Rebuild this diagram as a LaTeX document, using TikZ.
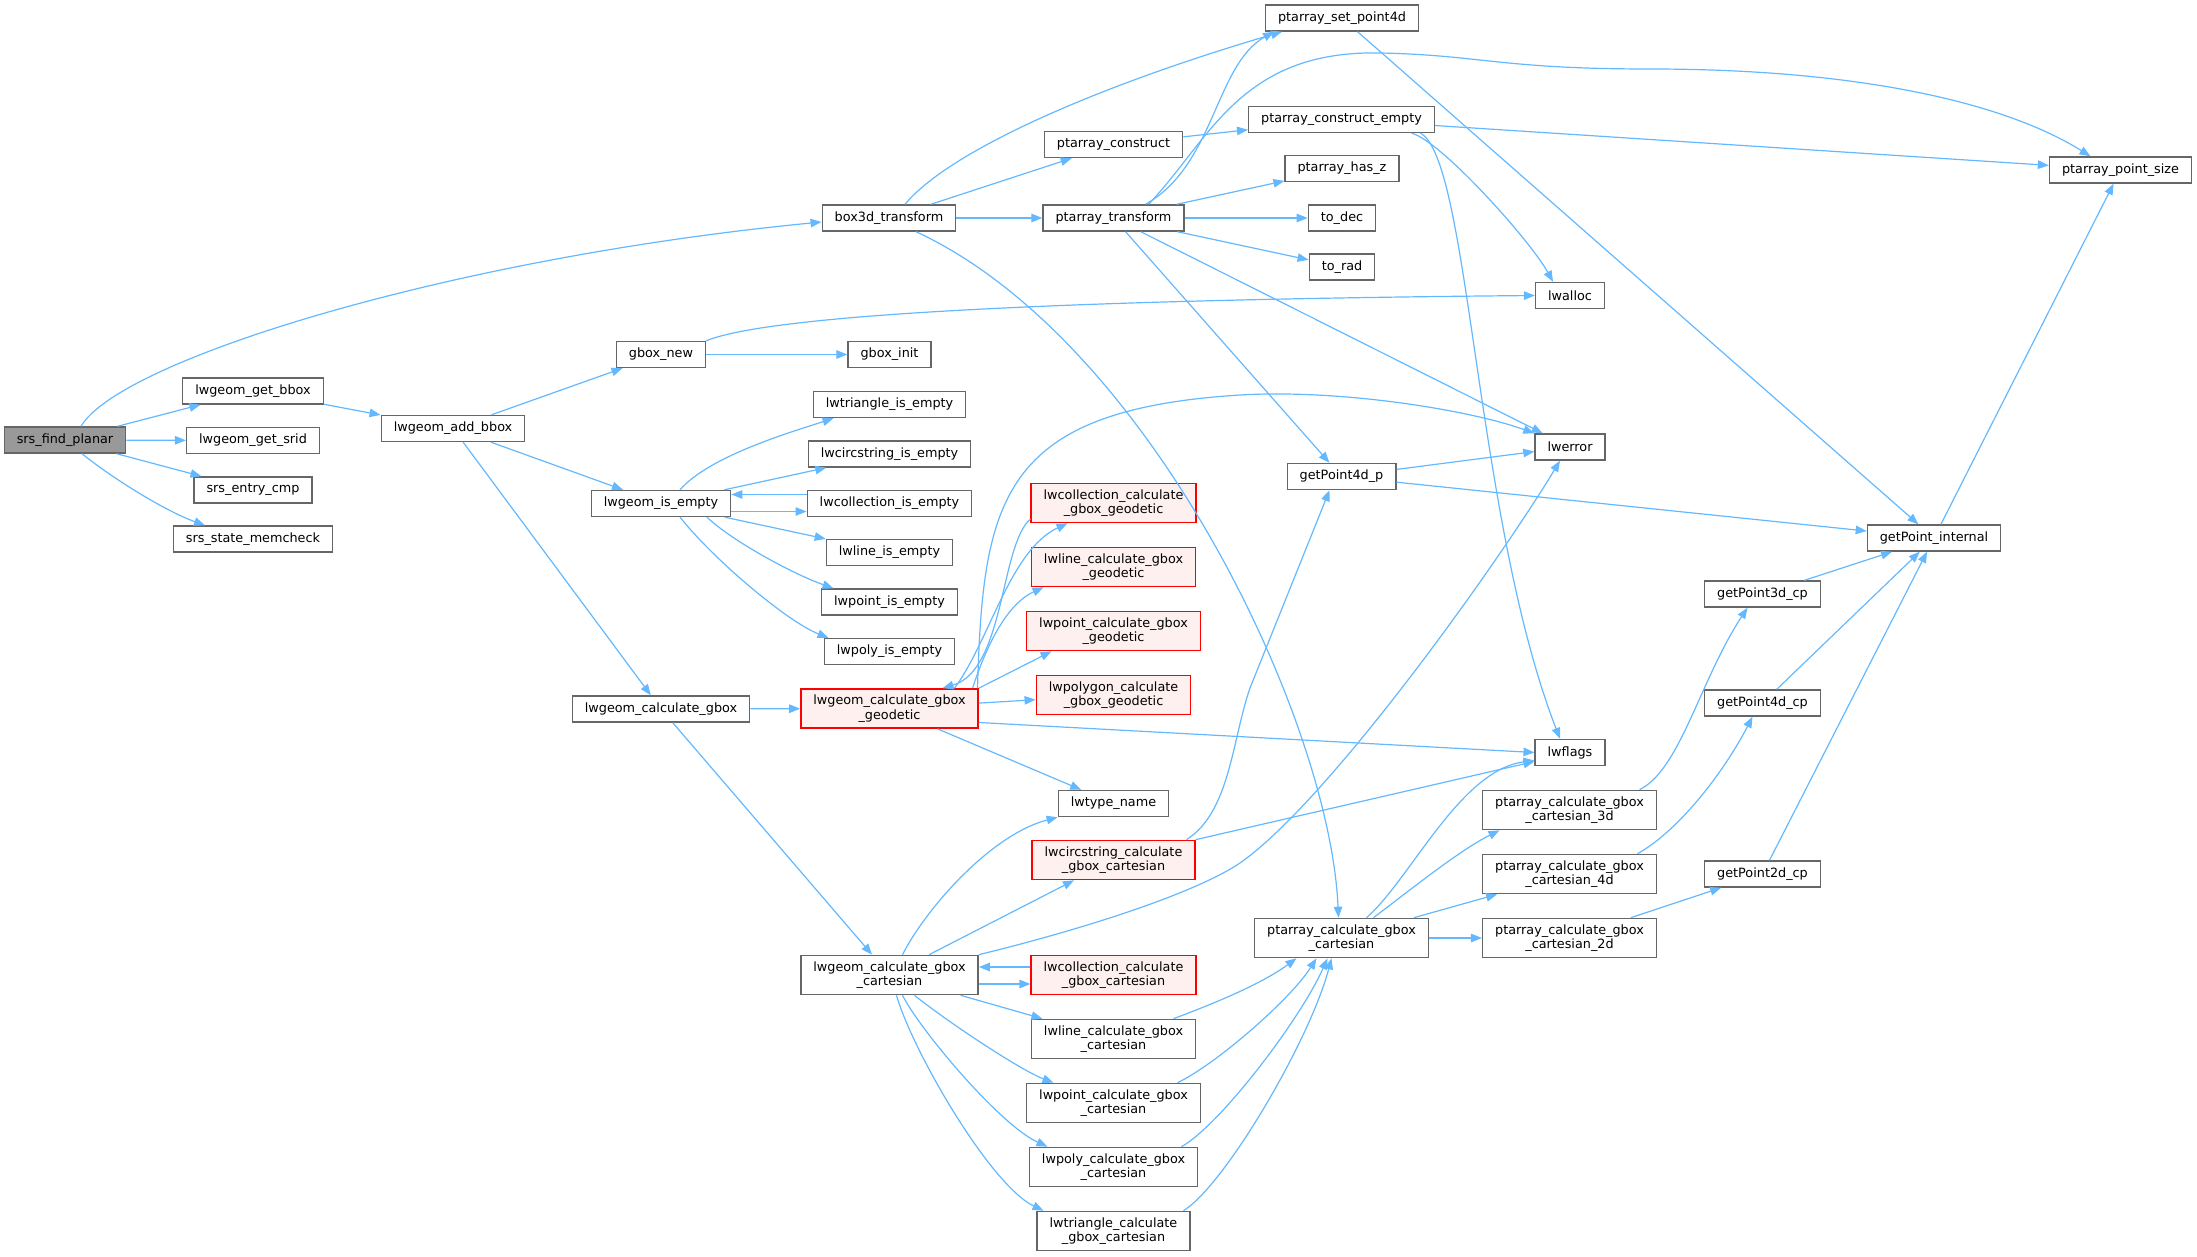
\documentclass[tikz,border=0pt]{standalone}
\usepackage{fontspec}
\setmainfont{DejaVu Sans}
\usetikzlibrary{arrows.meta}
\definecolor{edgeblue}{HTML}{63B8FF}
\definecolor{nodegray}{HTML}{666666}
\definecolor{rootgray}{HTML}{999999}
\definecolor{redfill}{HTML}{FFF0F0}

\begin{document}
\begin{tikzpicture}[x=1pt, y=-1pt,
    box/.style={rectangle, draw=nodegray, fill=white, line width=1.4pt, minimum height=26pt, inner xsep=12.5pt, inner ysep=6pt, align=center, font=\fontsize{12.8}{14.5}\selectfont},
    rootbox/.style={box, fill=rootgray},
    redbox/.style={box, draw=red, fill=redfill},
    arr/.style={-{Triangle[length=11pt,width=8.5pt]}, line width=1.2pt, color=edgeblue}
]
\useasboundingbox (0,0) rectangle (2197,1257);

% columns 1-3
\node[rootbox] (srs) at (65,440) {srs\_find\_planar};
\node[box] (getbbox) at (253,391) {lwgeom\_get\_bbox};
\node[box] (getsrid) at (253,440.5) {lwgeom\_get\_srid};
\node[box] (entrycmp) at (253,490) {srs\_entry\_cmp};
\node[box] (memcheck) at (253,539) {srs\_state\_memcheck};
\node[box] (addbbox) at (453,428.5) {lwgeom\_add\_bbox};
\node[box] (gboxnew) at (661,354.5) {gbox\_new};
\node[box] (isempty) at (661,503.5) {lwgeom\_is\_empty};
\node[box] (calcgbox) at (661,709) {lwgeom\_calculate\_gbox};

% column 4
\node[box] (box3d) at (889,218) {box3d\_transform};
\node[box] (gboxinit) at (889.5,354.5) {gbox\_init};
\node[box] (triempty) at (889.5,404.5) {lwtriangle\_is\_empty};
\node[box] (circempty) at (889.5,454) {lwcircstring\_is\_empty};
\node[box] (collempty) at (889.5,503.5) {lwcollection\_is\_empty};
\node[box] (lineempty) at (889.5,552.5) {lwline\_is\_empty};
\node[box] (pointempty) at (889.5,602) {lwpoint\_is\_empty};
\node[box] (polyempty) at (889.5,651.5) {lwpoly\_is\_empty};
\node[redbox] (geodetic) at (889.5,708.5) {lwgeom\_calculate\_gbox\\\_geodetic};
\node[box] (cartesian) at (889.5,975) {lwgeom\_calculate\_gbox\\\_cartesian};

% column 5
\node[box] (construct) at (1113.5,144.5) {ptarray\_construct};
\node[box] (transform) at (1113.5,218) {ptarray\_transform};
\node[redbox] (collgeo) at (1113.5,503) {lwcollection\_calculate\\\_gbox\_geodetic};
\node[redbox] (linegeo) at (1113.5,567) {lwline\_calculate\_gbox\\\_geodetic};
\node[redbox] (pointgeo) at (1113.5,631) {lwpoint\_calculate\_gbox\\\_geodetic};
\node[redbox] (polygeo) at (1113.5,695) {lwpolygon\_calculate\\\_gbox\_geodetic};
\node[box] (typename) at (1113.5,803.5) {lwtype\_name};
\node[redbox] (circcart) at (1113.5,860) {lwcircstring\_calculate\\\_gbox\_cartesian};
\node[redbox] (collcart) at (1113.5,975) {lwcollection\_calculate\\\_gbox\_cartesian};
\node[box] (linecart) at (1113.5,1039) {lwline\_calculate\_gbox\\\_cartesian};
\node[box] (pointcart) at (1113.5,1103) {lwpoint\_calculate\_gbox\\\_cartesian};
\node[box] (polycart) at (1113.5,1167) {lwpoly\_calculate\_gbox\\\_cartesian};
\node[box] (tricart) at (1113.5,1231) {lwtriangle\_calculate\\\_gbox\_cartesian};

% column 6
\node[box] (setpoint) at (1342,18) {ptarray\_set\_point4d};
\node[box] (constructempty) at (1341.5,119.5) {ptarray\_construct\_empty};
\node[box] (hasz) at (1342,168.5) {ptarray\_has\_z};
\node[box] (todec) at (1342,218) {to\_dec};
\node[box] (torad) at (1342,267) {to\_rad};
\node[box] (getp4d) at (1341.5,476.5) {getPoint4d\_p};
\node[box] (calccart) at (1341.5,938) {ptarray\_calculate\_gbox\\\_cartesian};

% columns 7-10
\node[box] (lwalloc) at (1570,295.5) {lwalloc};
\node[box] (lwerror) at (1570,447) {lwerror};
\node[box] (lwflags) at (1570,752.5) {lwflags};
\node[box] (cart3d) at (1569.5,810) {ptarray\_calculate\_gbox\\\_cartesian\_3d};
\node[box] (cart4d) at (1569.5,874) {ptarray\_calculate\_gbox\\\_cartesian\_4d};
\node[box] (cart2d) at (1569.5,938) {ptarray\_calculate\_gbox\\\_cartesian\_2d};
\node[box] (gp3d) at (1762.5,594) {getPoint3d\_cp};
\node[box] (gp4d) at (1762.5,703) {getPoint4d\_cp};
\node[box] (gp2d) at (1762.5,874) {getPoint2d\_cp};
\node[box] (gpinternal) at (1934,538) {getPoint\_internal};
\node[box] (pointsize) at (2120.5,170) {ptarray\_point\_size};

% calls from the root
\draw[arr] ([xshift=16pt]srs.north) .. controls (120,360) and (450,258) .. ([yshift=-4pt]box3d.west);
\draw[arr] (srs) -- (getbbox);
\draw[arr] (srs) -- (getsrid);
\draw[arr] (srs) -- (entrycmp);
\draw[arr] ([xshift=17pt]srs.south) .. controls (112,478) and (165,511) .. ([xshift=-48pt]memcheck.north);
\draw[arr] (getbbox) -- (addbbox);
\draw[arr] (addbbox) -- (gboxnew);
\draw[arr] (addbbox) -- (isempty);
\draw[arr] (addbbox) -- (calcgbox);
\draw[arr] (gboxnew) -- (gboxinit);
\draw[arr] (gboxnew.north east) .. controls (766,316) and (1036,300) .. (lwalloc.west);

% is_empty family
\draw[arr] ([xshift=19pt]isempty.north) .. controls (710,455) and (798,430) .. ([xshift=-56pt]triempty.south);
\draw[arr] (isempty) -- (circempty);
\draw[arr] ([yshift=-8pt]isempty.east) -- ([yshift=-8pt]collempty.west);
\draw[arr] ([yshift=9pt]collempty.west) -- ([yshift=9pt]isempty.east);
\draw[arr] (isempty) -- (lineempty);
\draw[arr] ([xshift=46pt]isempty.south) .. controls (732,541) and (793,574) .. ([xshift=-56pt]pointempty.north);
\draw[arr] ([xshift=19pt]isempty.south) .. controls (715,561) and (788,622) .. ([xshift=-61pt]polyempty.north);

% gbox
\draw[arr] (calcgbox) -- (geodetic);
\draw[arr] (calcgbox) -- (cartesian);

% geodetic
\draw[arr] ([xshift=65pt]geodetic.north) .. controls (990,640) and (1010,550) .. ([xshift=-46pt]collgeo.south);
\draw[arr] ([yshift=-16pt]collgeo.west) .. controls (1000,545) and (1005,670) .. ([xshift=53pt]geodetic.north);
\draw[arr] ([xshift=83pt]geodetic.north) .. controls (985,650) and (1005,605) .. ([xshift=-70pt]linegeo.south);
\draw[arr] (geodetic.north east) -- ([xshift=-62pt]pointgeo.south);
\draw[arr] (geodetic) -- (polygeo);
\draw[arr] ([yshift=-14pt]geodetic.east) -- (lwflags.west);
\draw[arr] (geodetic) -- (typename);
\draw[arr] ([xshift=88pt]geodetic.north) .. controls (983,500) and (1000,410) .. (1240,395)
    .. controls (1340,389) and (1470,410) .. (lwerror.north west);

% cartesian
\draw[arr] ([xshift=13pt]cartesian.north) .. controls (925,910) and (990,835) .. (typename.south west);
\draw[arr] (cartesian) -- (circcart);
\draw[arr] (cartesian.north east) .. controls (1100,925) and (1200,890) .. (1240,863)
    .. controls (1330,800) and (1500,560) .. ([xshift=-10pt]lwerror.south);
\draw[arr] ([yshift=-9pt]cartesian.east) -- ([yshift=-9pt]collcart.west);
\draw[arr] ([yshift=8pt]collcart.west) -- ([yshift=8pt]cartesian.east);
\draw[arr] (cartesian) -- (linecart);
\draw[arr] ([xshift=25pt]cartesian.south) .. controls (945,1020) and (1020,1070) .. ([xshift=-60pt]pointcart.north);
\draw[arr] ([xshift=13pt]cartesian.south) .. controls (920,1030) and (1000,1125) .. ([xshift=-66pt]polycart.north);
\draw[arr] ([xshift=7pt]cartesian.south) .. controls (912,1050) and (990,1185) .. ([xshift=-70pt]tricart.north);

\draw[arr] ([xshift=73pt]circcart.north) .. controls (1230,812) and (1232,740) .. (1250,688) -- ([xshift=-12pt]getp4d.south);
\draw[arr] (circcart.north east) -- ([yshift=-9pt]lwflags.west);
\draw[arr] ([xshift=60pt]linecart.north) .. controls (1210,1005) and (1260,985) .. ([xshift=-45pt]calccart.south);
\draw[arr] ([xshift=64pt]pointcart.north) .. controls (1215,1065) and (1290,1000) .. ([xshift=-25pt]calccart.south);
\draw[arr] ([xshift=68pt]polycart.north) .. controls (1220,1125) and (1300,1020) .. ([xshift=-14pt]calccart.south);
\draw[arr] ([xshift=70pt]tricart.north) .. controls (1225,1185) and (1310,1040) .. ([xshift=-10pt]calccart.south);

% box3d_transform
\draw[arr] ([xshift=16pt]box3d.north) .. controls (950,150) and (1100,85) .. ([xshift=-60pt]setpoint.south);
\draw[arr] (box3d) -- (construct);
\draw[arr] (box3d) -- (transform);
\draw[arr] ([xshift=27pt]box3d.south) .. controls (1150,340) and (1330,720) .. ([xshift=-3pt]calccart.north);
\draw[arr] (construct) -- (constructempty);

% ptarray_transform
\draw[arr] ([xshift=32pt]transform.north) .. controls (1215,165) and (1215,65) .. ([xshift=-68pt]setpoint.south);
\draw[arr] ([xshift=35pt]transform.north) .. controls (1210,140) and (1240,50) .. (1380,53)
    .. controls (1480,55) and (1500,69) .. (1650,69)
    .. controls (1850,69) and (2000,100) .. ([xshift=-30pt]pointsize.north);
\draw[arr] (transform) -- (hasz);
\draw[arr] (transform) -- (todec);
\draw[arr] (transform) -- (torad);
\draw[arr] (transform) -- (getp4d);
\draw[arr] (transform) -- (lwerror);

% ptarray_construct_empty and the rest
\draw[arr] (constructempty) -- (pointsize);
\draw[arr] ([xshift=70pt]constructempty.south) .. controls (1440,140) and (1530,240) .. ([xshift=-17pt]lwalloc.north);
\draw[arr] ([xshift=79pt]constructempty.south) .. controls (1470,160) and (1475,520) .. ([xshift=-10pt]lwflags.north);
\draw[arr] (setpoint) -- (gpinternal);
\draw[arr] (getp4d) -- (lwerror);
\draw[arr] (getp4d) -- (gpinternal);

\draw[arr] ([xshift=25pt]calccart.north) .. controls (1410,880) and (1460,770) .. ([yshift=-8pt]lwflags.west);
\draw[arr] ([xshift=32pt]calccart.north) .. controls (1410,890) and (1460,850) .. ([xshift=-70pt]cart3d.south);
\draw[arr] (calccart) -- (cart4d);
\draw[arr] (calccart) -- (cart2d);
\draw[arr] ([xshift=70pt]cart3d.north) .. controls (1680,770) and (1700,680) .. ([xshift=-15pt]gp3d.south);
\draw[arr] ([xshift=68pt]cart4d.north) .. controls (1680,830) and (1725,770) .. ([xshift=-10pt]gp4d.south);
\draw[arr] (cart2d) -- (gp2d);
\draw[arr] (gp3d) -- (gpinternal);
\draw[arr] (gp4d) -- (gpinternal);
\draw[arr] (gp2d) -- (gpinternal);
\draw[arr] (gpinternal) -- (pointsize);
\end{tikzpicture}
\end{document}
